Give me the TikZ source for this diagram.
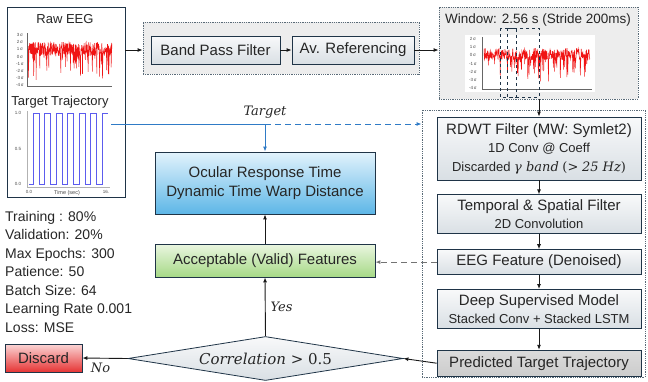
\documentclass[tikz,border=0pt]{standalone}
\usepackage{fontspec}
\setmainfont{Liberation Sans}
\newfontfamily\labelserif{DejaVu Serif}
\usepackage{xcolor}
\definecolor{edgecolor}{HTML}{1F3447}
\definecolor{groupline}{HTML}{5A6B78}
\definecolor{targetblue}{HTML}{2F7BC6}
\definecolor{trajblue}{HTML}{5C5CEE}
\definecolor{eegred}{HTML}{F01414}
\definecolor{boxtop}{HTML}{F8F9FA}
\definecolor{boxbottom}{HTML}{D9DFE4}
\definecolor{oculartop}{HTML}{E2F3FC}
\definecolor{ocularbottom}{HTML}{5DB6E7}
\definecolor{validtop}{HTML}{EAF6E1}
\definecolor{validbottom}{HTML}{A6D986}
\definecolor{discardtop}{HTML}{FAD6D6}
\definecolor{discardbottom}{HTML}{E63434}
\usepackage{tikz}
\usetikzlibrary{arrows.meta, shapes.geometric, positioning, calc}

\newcommand{\subtext}[1]{{\fontsize{13}{18.5}\selectfont #1}}
\newcommand{\mathtext}[1]{{\labelserif\itshape #1}}

\tikzset{
  stage/.style={draw=edgecolor, line width=0.8pt, top color=boxtop, bottom color=boxbottom,
    text=black!85, font=\fontsize{15}{18.5}\selectfont, align=center, inner sep=0pt,
    minimum width=204pt},
  group/.style={draw=groupline, densely dotted, line width=0.8pt, inner sep=0pt},
  panel/.style={draw=edgecolor, line width=0.9pt, fill=white, inner sep=0pt},
  paneltitle/.style={font=\fontsize{13}{15}\selectfont, text=black!85, inner sep=0pt},
  ticklabel/.style={font=\fontsize{4.5}{5}\selectfont, text=black!70, inner sep=0pt},
  flow/.style={-{Latex[length=5pt,width=4pt]}, line width=0.9pt, black!90},
  target/.style={-{Latex[length=5pt,width=4pt]}, line width=1pt, targetblue},
  longdash/.style={dash pattern=on 6pt off 4pt},
  mathlabel/.style={font=\fontsize{13}{16}\selectfont, text=black!85, inner sep=0pt},
}

\begin{document}
\begin{tikzpicture}[x=1pt, y=-1pt]
  \useasboundingbox (0,0) rectangle (648,381);

  % input panel
  \node[panel, minimum width=118pt, minimum height=190pt] (rawpanel) at (66,102) {};
  \node[paneltitle] (rawtitle) at (65,19) {Raw EEG};
  \draw[black!60, line width=0.3pt] (27,33) -- (27,86) -- (112,86);
  \foreach \v [count=\i from 0] in {3,2,1,0,-1,-2,-3,-4}
    \node[ticklabel] at (20,35+7.2*\i) {\v\,σ};
  \pgfmathsetseed{11}
  \draw[eegred, line width=0.5pt] plot[domain=28:112, samples=300]
    (\x, {49 + 7*rand + (rnd>0.8 ? 26*rnd : 0)});
  \node[paneltitle] (trajtitle) at (60,102) {Target Trajectory};
  \draw[black!30, line width=0.3pt] (27,111) -- (27,187) -- (110,187);
  \node[ticklabel] at (18,113) {1.0};
  \node[ticklabel] at (18,149) {0.5};
  \node[ticklabel] at (18,184) {0.0};
  \node[ticklabel] at (29,192) {0.0};
  \node[ticklabel] at (106,192) {16.};
  \node[ticklabel, font=\fontsize{5.5}{6}\selectfont] at (67,193) {Time (sec)};
  \draw[trajblue, line width=0.8pt] (29,184)
    foreach \r in {33.3,44.8,56.3,67.8,79.3,90.8} {-- (\r,184) -- (\r,113) -- (\r+6,113) -- (\r+6,184)}
    -- (102.3,184) -- (102.3,113) -- (108,113);

  % preprocessing
  \node[group, fill=black!7, minimum width=276pt, minimum height=52pt] (prep) at (281,48) {};
  \node[stage, minimum width=129pt, minimum height=28pt] (bpf) at (215.5,50) {Band Pass Filter};
  \node[stage, minimum width=122pt, minimum height=28pt] (avref) at (353,50) {Av. Referencing};

  % windowing
  \node[group, fill=black!7, minimum width=199pt, minimum height=92pt] (window) at (538.5,53) {};
  \node[font=\fontsize{13.5}{15}\selectfont, text=black!85, inner sep=0pt] (wintitle) at (538,20)
    {Window: 2.56 s (Stride 200ms)};
  \fill[white] (465,35) rectangle (595,92);
  \draw[black!60, line width=0.3pt] (482,37) -- (482,89) -- (592,89);
  \foreach \v [count=\i from 0] in {2,1,0,-1,-2,-3,-4}
    \node[ticklabel] at (473,39+8.2*\i) {\v\,σ};
  \pgfmathsetseed{5}
  \draw[eegred, line width=0.5pt] plot[domain=484:590, samples=340]
    (\x, {54 + 6*rand + (rnd>0.8 ? 24*rnd : 0)});
  \draw[edgecolor, dashed, line width=0.8pt] (500,28) rectangle (516,97);
  \draw[edgecolor, dashed, line width=0.8pt] (507,28) rectangle (539,97);

  % denoising and model
  \node[group, fill=white, minimum width=223pt, minimum height=267pt] (denoise) at (533.5,243.5) {};
  \node[stage, minimum height=63pt] (rdwt) at (539,148.5)
    {RDWT Filter (MW: Symlet2)\\ \subtext{1D Conv @ Coeff}\\
     \subtext{Discarded \mathtext{γ band} {\labelserif(>} \mathtext{25 Hz}{\labelserif)}}};
  \node[stage, minimum height=39pt, below=14pt of rdwt] (tsfilter)
    {Temporal \& Spatial Filter\\ \subtext{2D Convolution}};
  \node[stage, minimum height=25pt, below=15pt of tsfilter] (feature) {EEG Feature (Denoised)};
  \node[stage, minimum height=39pt, below=14pt of feature] (deepmodel)
    {Deep Supervised Model\\ \subtext{Stacked Conv + Stacked LSTM}};
  \node[stage, minimum height=26pt, below=21pt of deepmodel, top color=black!14, bottom color=black!20]
    (predicted) {Predicted Target Trajectory};

  % evaluation
  \node[stage, minimum width=220pt, minimum height=62pt, top color=oculartop, bottom color=ocularbottom]
    (ocular) at (265,183) {Ocular Response Time\\ Dynamic Time Warp Distance};
  \node[stage, minimum width=220pt, minimum height=33pt, top color=validtop, bottom color=validbottom]
    (valid) at (265,260.5) {Acceptable (Valid) Features};
  \node[diamond, aspect=6.25, draw=edgecolor, line width=0.8pt, top color=boxtop, bottom color=boxbottom,
    minimum width=275pt, minimum height=44pt, inner sep=0pt, text=black!85,
    font=\fontsize{15}{18}\labelserif] (corr) at (265.5,358.5)
    {\itshape Correlation \upshape > 0.5};
  \node[stage, minimum width=77pt, minimum height=28pt, top color=discardtop, bottom color=discardbottom]
    (discard) at (43.5,358) {Discard};

  \node[anchor=north west, inner sep=0pt, align=left, text=black!85, font=\fontsize{14}{18.5}\selectfont]
    (params) at (5,211) {Training : 80\%\\ Validation: 20\%\\ Max Epochs: 300\\ Patience: 50\\
      Batch Size: 64\\ Learning Rate 0.001\\ Loss: MSE};

  % connectors
  \draw[flow] (rawpanel.east |- avref) -- (prep.west |- avref);
  \draw[flow] (bpf) -- (avref);
  \draw[flow] (avref.east) -- (avref.east -| window.west);
  \draw[flow] (window.south -| rdwt.north) -- (rdwt.north);
  \draw[flow] (rdwt) -- (tsfilter);
  \draw[flow] (tsfilter) -- (feature);
  \draw[flow] (feature) -- (deepmodel);
  \draw[flow] (deepmodel) -- (predicted);
  \coordinate (tstart) at (111,124);
  \draw[target] (tstart) -| (ocular.north);
  \draw[target, longdash] (tstart -| ocular.north) -- (tstart -| denoise.west);
  \node[mathlabel] (tgtlabel) at (265,112) {\mathtext{Target}};
  \draw[flow, longdash, black!55] (feature.west) -- (feature.west -| valid.east);
  \draw[flow] (valid) -- (ocular);
  \draw[flow] (corr.north) -- (valid.south) node[pos=0.5, right=5pt, mathlabel] {\mathtext{Yes}};
  \draw[flow] (predicted.west) -- (corr.east);
  \draw[flow] (corr.west) -- (discard.east) node[pos=0.6, below=4pt, mathlabel] {\mathtext{No}};
\end{tikzpicture}
\end{document}
